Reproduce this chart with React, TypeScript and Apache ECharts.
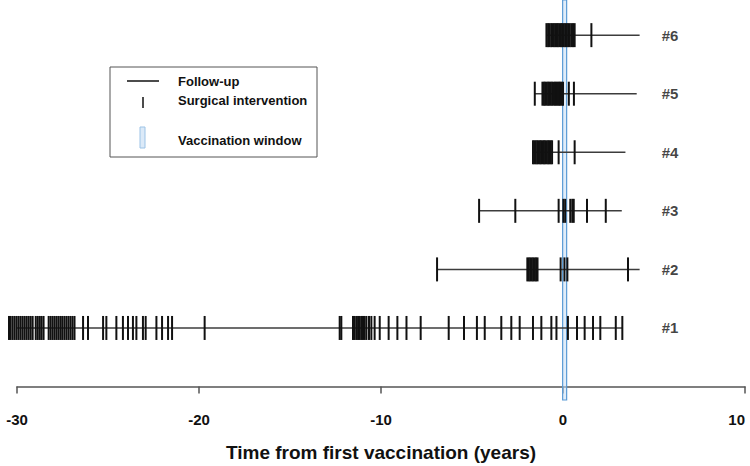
import React, { useEffect, useRef } from "react";
import * as echarts from "echarts";

// Patients (row index on the y axis)
const patients = [1, 2, 3, 4, 5, 6];
const patientLabels = ["#1", "#2", "#3", "#4", "#5", "#6"];

// Follow-up windows (years from first vaccination)
const followStart = [-30.55, -6.92, -4.61, -1.65, -1.55, -0.91];
const followEnd = [3.26, 4.21, 3.23, 3.43, 4.05, 4.21];

// Surgical interventions (years from first vaccination)
const events1 = [
  -30.44, -30.35, -30.24, -30.13, -30.02, -29.91, -29.8, -29.69, -29.58, -29.47,
  -29.36, -29.25, -29.14, -28.97, -28.86, -28.75, -28.65, -28.54, -28.26, -28.15,
  -28.04, -27.93, -27.82, -27.71, -27.6, -27.5, -27.39, -27.28, -27.17, -27.06,
  -26.95, -26.84, -26.37, -26.1, -25.27, -25.09, -24.54, -24.18, -23.9, -23.63,
  -23.44, -23.08, -22.93, -22.34, -22.03, -21.7, -21.48, -19.69, -12.27, -12.18,
  -11.54, -11.45, -11.35, -11.26, -11.17, -11.08, -10.99, -10.9, -10.8, -10.66,
  -10.53, -10.35, -10.07, -9.58, -9.1, -8.6, -7.82, -6.28, -5.44, -4.73, -4.3,
  -3.39, -2.84, -2.38, -1.65, -1.19, -0.64, -0.36, 0.27, 0.77, 1.19, 1.65, 2.05,
  2.9, 3.26,
];
const events2 = [-6.92, -1.96, -1.88, -1.8, -1.72, -1.64, -1.56, -1.48, -1.4, -0.13, 0.08, 0.24, 3.57];
const events3 = [-4.61, -2.62, -0.24, 0.02, 0.12, 0.4, 0.51, 0.59, 1.32, 2.35];
const events4 = [
  -1.65, -1.57, -1.5, -1.42, -1.35, -1.27, -1.2, -1.12, -1.05, -0.98, -0.9, -0.82,
  -0.75, -0.68, -0.6, -0.24, 0.64,
];
const events5 = [
  -1.55, -1.13, -1.05, -0.98, -0.9, -0.82, -0.75, -0.68, -0.6, -0.52, -0.44, -0.36,
  -0.3, -0.22, -0.15, -0.08, 0.0, 0.32, 0.6,
];
const events6 = [
  -0.91, -0.82, -0.74, -0.65, -0.58, -0.5, -0.42, -0.35, -0.28, -0.2, -0.12, -0.05,
  0.04, 0.12, 0.2, 0.28, 0.37, 0.46, 0.55, 0.64, 1.56,
];
const allEvents = [events1, events2, events3, events4, events5, events6];

// Vaccination window (years)
const vaccStart = -0.02;
const vaccEnd = 0.2;

// Axis
const xMin = -30;
const xMax = 10;
const xInterval = 10;
const labelX = 5.42;

const FONT = "'Liberation Sans', Arial, sans-serif";

export default function App() {
  const ref = useRef<HTMLDivElement>(null);
  useEffect(() => {
    if (!ref.current) return;
    const chart = echarts.init(ref.current, undefined, { renderer: "svg" });

    const lineSeries = patients.map((p, i) => ({
      type: "line",
      data: [
        [followStart[i], p],
        [followEnd[i], p],
      ],
      symbol: "none",
      clip: false,
      silent: true,
      z: 2,
      lineStyle: { color: "#3c3c3c", width: 1.5 },
    }));

    const eventData: number[][] = [];
    allEvents.forEach((arr, i) => arr.forEach((v) => eventData.push([v, patients[i]])));

    const option: any = {
      animation: false,
      grid: { left: 17, right: 5, top: 0, bottom: 66, containLabel: false, outerBoundsMode: "none" },
      xAxis: {
        type: "value",
        min: xMin,
        max: xMax,
        interval: xInterval,
        name: "Time from first vaccination (years)",
        nameLocation: "middle",
        nameGap: 43,
        nameTextStyle: { fontFamily: FONT, fontWeight: "bold", fontSize: 19, color: "#111" },
        axisLine: { show: true, lineStyle: { color: "#555", width: 1.5 } },
        axisTick: { show: true, length: 7, lineStyle: { color: "#555", width: 1.5 } },
        axisLabel: {
          fontFamily: FONT,
          fontWeight: "bold",
          fontSize: 15,
          color: "#111",
          margin: 12,
          alignMaxLabel: "right",
        },
        splitLine: { show: false },
      },
      yAxis: {
        type: "value",
        min: -0.23,
        max: 6.6,
        show: false,
      },
      series: [
        ...lineSeries,
        {
          type: "scatter",
          data: eventData,
          symbol: "rect",
          symbolSize: [2, 24],
          clip: false,
          silent: true,
          z: 3,
          itemStyle: { color: "#111", opacity: 1 },
        },
        {
          type: "scatter",
          data: patients.map((p) => [labelX, p]),
          symbolSize: 0,
          silent: true,
          z: 4,
          label: {
            show: true,
            position: "right",
            distance: 0,
            formatter: (d: any) => patientLabels[d.dataIndex],
            fontFamily: FONT,
            fontWeight: "bold",
            fontSize: 15,
            color: "#111",
          },
        },
        {
          type: "line",
          data: [],
          z: 10,
          silent: true,
          markArea: {
            silent: true,
            itemStyle: { color: "rgba(200,222,244,0.55)", borderColor: "#5b9bd5", borderWidth: 1.2 },
            data: [[{ xAxis: vaccStart }, { xAxis: vaccEnd }]],
          },
        },
      ],
      graphic: [
        {
          type: "rect",
          z: 20,
          shape: { x: 110, y: 67, width: 207, height: 90 },
          style: { fill: "#fff", stroke: "#555", lineWidth: 1 },
        },
        {
          type: "line",
          z: 21,
          shape: { x1: 127, y1: 81, x2: 159, y2: 81 },
          style: { stroke: "#111", lineWidth: 1.5 },
        },
        {
          type: "line",
          z: 21,
          shape: { x1: 143, y1: 97, x2: 143, y2: 108 },
          style: { stroke: "#111", lineWidth: 1.5 },
        },
        {
          type: "rect",
          z: 21,
          shape: { x: 140, y: 127, width: 5, height: 21 },
          style: { fill: "#dceaf8", stroke: "#9cc3e6", lineWidth: 1 },
        },
        {
          type: "text",
          z: 21,
          x: 178,
          y: 81,
          style: { text: "Follow-up", fontFamily: FONT, fontWeight: "bold", fontSize: 13, fill: "#111", verticalAlign: "middle" },
        },
        {
          type: "text",
          z: 21,
          x: 178,
          y: 100,
          style: { text: "Surgical intervention", fontFamily: FONT, fontWeight: "bold", fontSize: 13, fill: "#111", verticalAlign: "middle" },
        },
        {
          type: "text",
          z: 21,
          x: 178,
          y: 140,
          style: { text: "Vaccination window", fontFamily: FONT, fontWeight: "bold", fontSize: 13, fill: "#111", verticalAlign: "middle" },
        },
      ],
    };
    chart.setOption(option);
    return () => chart.dispose();
  }, []);
  return <div ref={ref} style={{ width: 750, height: 466, position: "absolute", left: 0, top: 0 }} />;
}
